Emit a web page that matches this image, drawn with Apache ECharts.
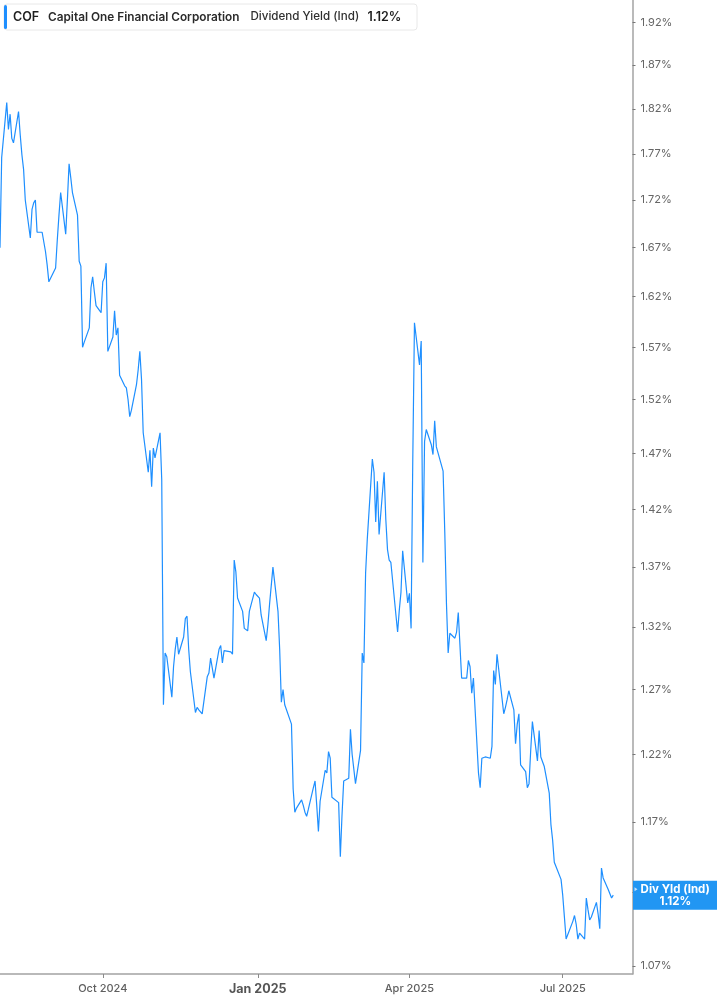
<!DOCTYPE html>
<html><head><meta charset="utf-8">
<script src="https://cdn.jsdelivr.net/npm/echarts@6/dist/echarts.min.js"></script>
<style>html,body{margin:0;padding:0;background:#fff}#c{width:717px;height:1005px}</style>
</head><body><div id="c"></div>
<script>
// ---- data ----
const tickerSymbol = 'COF';
const companyName = 'Capital One Financial Corporation';
const metricName = 'Dividend Yield (Ind)';
const shortMetricName = 'Div Yld (Ind)';
const firstTradingDay = [2024, 7, 1];   // 2024-08-01
const lastTradingDay = [2025, 6, 31];   // 2025-07-31
const marketHolidays = ['2024-09-02','2024-11-28','2024-12-25','2025-01-01','2025-01-09','2025-01-20','2025-02-17','2025-04-18','2025-05-26','2025-06-19','2025-07-04'];

const yieldAug2024 = [1.670,1.766,1.827,1.797,1.814,1.787,1.782,1.817,1.791,1.769,1.753,1.720,1.680,1.710,1.717,1.720,1.686,1.686,1.686,1.666,1.652,1.635];
const yieldSep2024 = [1.649,1.678,1.704,1.728,1.684,1.720,1.759,1.744,1.728,1.704,1.656,1.651,1.570,1.575,1.589,1.629,1.640,1.625,1.611,1.604];
const yieldOct2024 = [1.635,1.639,1.654,1.566,1.580,1.606,1.582,1.589,1.543,1.533,1.531,1.520,1.504,1.510,1.534,1.548,1.566,1.539,1.489,1.453,1.473,1.440,1.475];
const yieldNov2024 = [1.466,1.489,1.446,1.258,1.299,1.296,1.264,1.288,1.302,1.312,1.298,1.312,1.327,1.329,1.302,1.284,1.252,1.256,1.254,1.251];
const yieldDec2024 = [1.280,1.283,1.295,1.295,1.279,1.302,1.305,1.291,1.301,1.300,1.300,1.298,1.376,1.366,1.344,1.333,1.319,1.317,1.333,1.349,1.347];
const yieldJan2025 = [1.344,1.330,1.309,1.322,1.339,1.370,1.333,1.302,1.260,1.270,1.258,1.243,1.194,1.177,1.180,1.186,1.182,1.177,1.174,1.179];
const yieldFeb2025 = [1.195,1.200,1.182,1.163,1.185,1.208,1.206,1.222,1.217,1.188,1.184,1.145,1.175,1.200,1.202,1.239,1.220,1.219,1.198];
const yieldMar2025 = [1.223,1.299,1.291,1.365,1.394,1.465,1.453,1.409,1.445,1.398,1.453,1.411,1.385,1.376,1.374,1.330,1.316,1.334,1.349,1.384,1.340];
const yieldApr2025 = [1.348,1.319,1.464,1.594,1.553,1.576,1.374,1.481,1.492,1.478,1.469,1.500,1.476,1.454,1.400,1.339,1.299,1.315,1.311,1.316,1.332];
const yieldMay2025 = [1.332,1.279,1.279,1.293,1.288,1.267,1.279,1.206,1.195,1.217,1.218,1.218,1.217,1.226,1.285,1.274,1.298,1.251,1.256,1.262,1.269];
const yieldJun2025 = [1.254,1.228,1.243,1.251,1.212,1.207,1.195,1.198,1.223,1.245,1.215,1.238,1.218,1.211,1.191,1.168,1.157,1.141,1.138,1.129];
const yieldJul2025 = [1.118,1.103,1.088,1.100,1.104,1.098,1.088,1.092,1.088,1.116,1.108,1.101,1.103,1.113,1.105,1.095,1.137,1.130,1.122,1.123,1.116,1.118];

const yTickValues = [1.07,1.12,1.17,1.22,1.27,1.32,1.37,1.42,1.47,1.52,1.57,1.62,1.67,1.72,1.77,1.82,1.87,1.92];
const xTickDates = ['2024-10-01','2025-01-01','2025-04-01','2025-07-01'];
const xTickLabels = ['Oct 2024','Jan 2025','Apr 2025','Jul 2025'];
const xTickBold = [false,true,false,false];

// visible window of the axes
const yAxisMin = 1.0647, yAxisMax = 1.947;
const xAxisEndDate = '2025-08-11T10:00:00Z';

// ---- build ----
const DAY = 86400000;
const isoDay = t => new Date(t).toISOString().slice(0,10);
const tradingDates = [];
for (let t = Date.UTC(...firstTradingDay); t <= Date.UTC(...lastTradingDay); t += DAY) {
  const wd = new Date(t).getUTCDay();
  if (wd === 0 || wd === 6) continue;
  if (marketHolidays.includes(isoDay(t))) continue;
  tradingDates.push(t);
}
const yieldValues = [].concat(yieldAug2024,yieldSep2024,yieldOct2024,yieldNov2024,yieldDec2024,yieldJan2025,
  yieldFeb2025,yieldMar2025,yieldApr2025,yieldMay2025,yieldJun2025,yieldJul2025);
const seriesData = tradingDates.map((t,i) => [t, yieldValues[i]]);
const lastValue = yieldValues[yieldValues.length-1];
const xTickTimes = xTickDates.map(d => Date.parse(d + 'T00:00:00Z'));

const FONT = 'Inter, "Noto Sans", sans-serif';
const BLUE = '#1e8fff';
const chart = echarts.init(document.getElementById('c'), null, {renderer:'canvas'});

const option = {
  animation: false,
  backgroundColor: '#ffffff',
  grid: {left: 0, right: 84.5, top: 0, bottom: 31, containLabel: false},
  xAxis: {
    type: 'value',
    scale: true,
    min: Date.UTC(...firstTradingDay),
    max: Date.parse(xAxisEndDate),
    axisLine: {show: true, onZero: false, lineStyle: {color: '#a3a3a3', width: 1.5}},
    axisTick: {show: true, customValues: xTickTimes, length: 4, lineStyle: {color: '#8a8a8a', width: 1}},
    splitLine: {show: false},
    axisLabel: {
      customValues: xTickTimes,
      margin: 9,
      fontFamily: FONT,
      formatter: v => {
        const i = xTickTimes.indexOf(Number(v));
        if (i < 0) return '';
        return xTickBold[i] ? '{b|' + xTickLabels[i] + '}' : '{n|' + xTickLabels[i] + '}';
      },
      rich: {
        n: {fontSize: 11, color: '#5f5f5f', fontFamily: FONT, fontWeight: 500},
        b: {fontSize: 12.5, color: '#555555', fontFamily: FONT, fontWeight: 'bold'}
      }
    }
  },
  yAxis: {
    type: 'log',
    logBase: 10,
    position: 'right',
    min: yAxisMin,
    max: yAxisMax,
    axisLine: {show: true, lineStyle: {color: '#a3a3a3', width: 1.5}},
    axisTick: {show: true, customValues: yTickValues, length: 3, lineStyle: {color: '#777', width: 1}},
    splitLine: {show: false},
    axisLabel: {
      customValues: yTickValues,
      margin: 8,
      fontSize: 11,
      color: '#666666',
      fontFamily: FONT,
      formatter: v => Number(v).toFixed(2) + '%'
    }
  },
  series: [{
    type: 'line',
    data: seriesData,
    showSymbol: false,
    symbol: 'none',
    clip: true,
    lineStyle: {color: BLUE, width: 1.2},
    itemStyle: {color: BLUE}
  }]
};
chart.setOption(option);

// header and last-value badge
const headerTexts = [
  {text: tickerSymbol, x: 13, weight: 600, size: 12.5, color: '#1e1e1e'},
  {text: companyName, x: 48, weight: 600, size: 11.8, color: '#2a2a2a'},
  {text: metricName, x: 250.5, weight: 500, size: 11.6, color: '#2f2f2f'},
  {text: lastValue.toFixed(2) + '%', x: 367.5, weight: 600, size: 12.5, color: '#1e1e1e'}
];
const yLast = chart.convertToPixel({yAxisIndex: 0}, lastValue);
const axisX = chart.convertToPixel({xAxisIndex: 0}, Date.parse(xAxisEndDate));
chart.setOption({
  graphic: [
    {type: 'rect', z: 100, shape: {x: 4, y: 4, width: 413, height: 26, r: 3},
     style: {fill: '#ffffff', stroke: '#e8e8e8', lineWidth: 1}},
    {type: 'rect', z: 101, shape: {x: 4, y: 5, width: 3, height: 24, r: 1.5},
     style: {fill: BLUE}},
    ...headerTexts.map(h => ({type: 'text', z: 102, x: h.x, y: 17,
      style: {text: h.text, fontSize: h.size, fontWeight: h.weight, fontFamily: FONT, fill: h.color,
              align: 'left', verticalAlign: 'middle'}})),
    {type: 'rect', z: 100, shape: {x: axisX + 0.5, y: yLast - 14.5, width: 717 - axisX, height: 29},
     style: {fill: '#2196f3'}},
    {type: 'polygon', z: 101, shape: {points: [[axisX + 2, yLast - 8], [axisX + 5, yLast - 6], [axisX + 2, yLast - 4]]},
     style: {fill: '#bfe0ff'}},
    {type: 'text', z: 102, x: (axisX + 717) / 2 + 0.5, y: yLast - 5.5,
     style: {text: shortMetricName, fontSize: 11.5, fontWeight: 'bold', fontFamily: FONT, fill: '#ffffff',
             align: 'center', verticalAlign: 'middle'}},
    {type: 'text', z: 102, x: (axisX + 717) / 2 + 0.5, y: yLast + 6,
     style: {text: lastValue.toFixed(2) + '%', fontSize: 11.5, fontWeight: 'bold', fontFamily: FONT, fill: '#ffffff',
             align: 'center', verticalAlign: 'middle'}}
  ]
});
</script>
</body></html>
